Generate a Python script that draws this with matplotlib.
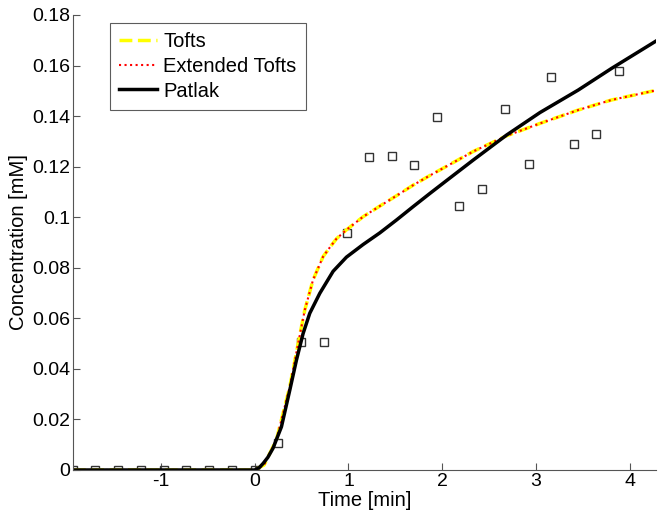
import matplotlib
matplotlib.use('Agg')
import matplotlib.pyplot as plt

plt.rcParams['font.family'] = ['Liberation Sans', 'DejaVu Sans']
plt.rcParams['axes.unicode_minus'] = False

# measured samples
time_pts = [-1.94, -1.70, -1.46, -1.21, -0.97, -0.73, -0.49, -0.24, 0.0,
            0.25, 0.49, 0.74, 0.985, 1.22, 1.46, 1.70, 1.94, 2.18, 2.42,
            2.67, 2.92, 3.16, 3.40, 3.64, 3.88]
conc_pts = [0, 0, 0, 0, 0, 0, 0, 0, 0,
            0.0106, 0.0508, 0.0508, 0.0936, 0.1237, 0.1243, 0.1207, 0.1395,
            0.1043, 0.1113, 0.1428, 0.1211, 0.1555, 0.1288, 0.1328, 0.1577]

# model fits
tofts_t = [-1.94, 0.0, 0.1, 0.231, 0.374, 0.463, 0.534, 0.622, 0.729, 0.80,
           0.872, 0.978, 1.156, 1.334, 1.512, 1.69, 1.868, 2.0, 2.33, 2.686,
           3.042, 3.45, 3.807, 4.28]
tofts_c = [0, 0, 0.002, 0.0119, 0.033, 0.050, 0.0633, 0.0752, 0.0844, 0.0880,
           0.0915, 0.0950, 0.1002, 0.1044, 0.1085, 0.1127, 0.1165, 0.1192,
           0.1260, 0.1322, 0.1371, 0.1424, 0.1464, 0.1502]
ext_tofts_c = [0, 0, 0.002, 0.0119, 0.033, 0.050, 0.0633, 0.0752, 0.0844, 0.0880,
               0.0915, 0.0950, 0.1002, 0.1044, 0.1085, 0.1127, 0.1165, 0.1192,
               0.1260, 0.1322, 0.1371, 0.1424, 0.1464, 0.1502]
patlak_t = [-1.94, 0.0, 0.05, 0.09, 0.14, 0.195, 0.285, 0.374, 0.445, 0.516,
            0.587, 0.694, 0.836, 0.978, 1.156, 1.334, 1.512, 1.69, 1.868,
            2.046, 2.33, 2.686, 3.042, 3.45, 3.807, 4.28]
patlak_c = [0, 0, 0.001, 0.0026, 0.005, 0.0086, 0.0171, 0.0316, 0.0435, 0.054,
            0.062, 0.0699, 0.0786, 0.0842, 0.0892, 0.0938, 0.0989, 0.1042,
            0.1094, 0.1145, 0.1226, 0.1325, 0.1414, 0.1503, 0.1589, 0.1697]

fig = plt.figure(figsize=(6.62, 5.26), dpi=100)
ax = fig.add_axes([0.110, 0.1065, 0.881, 0.865])

ax.plot(time_pts, conc_pts, 's', markersize=6, markerfacecolor='none',
        markeredgecolor='#333333', markeredgewidth=1.0)
ax.plot(tofts_t, tofts_c, '--', color='#ffff00', lw=2.5, label='Tofts')
ax.plot(tofts_t, ext_tofts_c, ':', color='#ff0000', lw=1.5, label='Extended Tofts')
ax.plot(patlak_t, patlak_c, '-', color='black', lw=2.5, label='Patlak')

ax.set_xlim(-1.94, 4.28)
ax.set_ylim(0, 0.18)
ax.set_xticks([-1, 0, 1, 2, 3, 4])
ax.set_yticks([0, 0.02, 0.04, 0.06, 0.08, 0.1, 0.12, 0.14, 0.16, 0.18])
ax.set_yticklabels(['0', '0.02', '0.04', '0.06', '0.08', '0.1', '0.12',
                    '0.14', '0.16', '0.18'])
ax.tick_params(direction='in', labelsize=14, length=5, color='#555555', pad=2)
ax.spines['top'].set_visible(False)
ax.spines['right'].set_visible(False)
ax.spines['left'].set_color('#555555')
ax.spines['bottom'].set_color('#555555')
ax.set_xlabel('Time [min]', fontsize=14.5, labelpad=1)
ax.set_ylabel('Concentration [mM]', fontsize=14.5, labelpad=3)

leg = ax.legend(loc='upper left', bbox_to_anchor=(0.0635, 0.982),
                borderaxespad=0, fontsize=14.5,
                frameon=True, fancybox=False, edgecolor='#333333',
                handlelength=1.9, borderpad=0.45, labelspacing=0.28,
                handletextpad=0.3)
leg.get_frame().set_linewidth(0.8)

fig.savefig('out.png', dpi=100)
